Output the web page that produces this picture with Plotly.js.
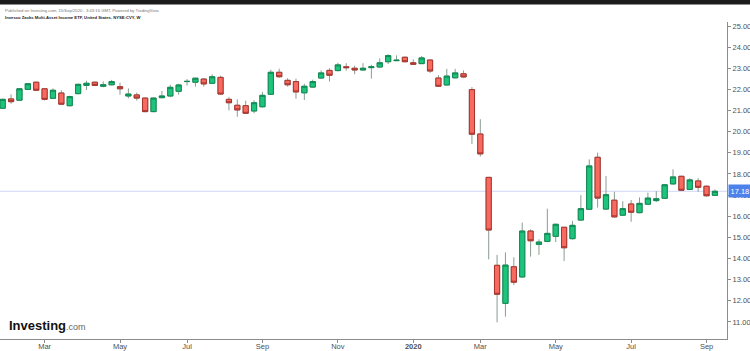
<!DOCTYPE html>
<html>
<head>
<meta charset="utf-8">
<script src="https://cdn.plot.ly/plotly-3.0.1.min.js"></script>
<style>
html,body{margin:0;padding:0;background:#fff;}
#chart{width:750px;height:351px;}
</style>
</head>
<body>
<div id="chart"></div>
<script>
// Weekly bars (week starting Monday), Invesco Zacks Multi-Asset Income ETF (NYSE:CVY)
const weekDates = [
 '2019-01-28','2019-02-04','2019-02-11','2019-02-18','2019-02-25',
 '2019-03-04','2019-03-11','2019-03-18','2019-03-25',
 '2019-04-01','2019-04-08','2019-04-15','2019-04-22','2019-04-29',
 '2019-05-06','2019-05-13','2019-05-20','2019-05-27',
 '2019-06-03','2019-06-10','2019-06-17','2019-06-24',
 '2019-07-01','2019-07-08','2019-07-15','2019-07-22','2019-07-29',
 '2019-08-05','2019-08-12','2019-08-19','2019-08-26',
 '2019-09-02','2019-09-09','2019-09-16','2019-09-23','2019-09-30',
 '2019-10-07','2019-10-14','2019-10-21','2019-10-28',
 '2019-11-04','2019-11-11','2019-11-18','2019-11-25',
 '2019-12-02','2019-12-09','2019-12-16','2019-12-23','2019-12-30',
 '2020-01-06','2020-01-13','2020-01-20','2020-01-27',
 '2020-02-03','2020-02-10','2020-02-17','2020-02-24',
 '2020-03-02','2020-03-09','2020-03-16','2020-03-23','2020-03-30',
 '2020-04-06','2020-04-13','2020-04-20','2020-04-27',
 '2020-05-04','2020-05-11','2020-05-18','2020-05-25',
 '2020-06-01','2020-06-08','2020-06-15','2020-06-22','2020-06-29',
 '2020-07-06','2020-07-13','2020-07-20','2020-07-27',
 '2020-08-03','2020-08-10','2020-08-17','2020-08-24','2020-08-31',
 '2020-09-07','2020-09-14'
];
const openP = [
 21.11,21.55,21.49,22.00,22.34, 22.03,21.58,21.83,21.23, 21.80,22.19,22.34,22.15,22.22,
 22.13,21.69,21.74,21.59, 20.95,21.61,21.69,21.91, 22.37,22.34,22.49,22.29,22.57,
 21.53,21.25,21.23,20.98, 21.18,21.77,22.81,22.43,22.37, 21.84,22.11,22.54,22.90,
 22.89,23.07,23.00,22.92, 23.03,23.06,23.31,23.36,23.52,
 23.26,23.22,23.39,22.54, 22.21,22.55,22.74,21.99,
 19.89,17.84,13.68,11.88,13.61, 13.13,15.30,14.67,14.81,
 15.05,15.48,14.94,15.82, 16.33,18.79,16.34,16.76,16.05,
 16.58,16.17,16.57,16.74, 16.85,17.53,17.89,17.27,17.67, 17.42,16.99
];
const highP = [
 21.56,21.77,22.06,22.30,22.37, 22.06,22.05,21.96,21.70, 22.27,22.41,22.37,22.38,22.45,
 22.32,22.05,21.85,21.62, 21.62,21.93,22.22,22.27, 22.49,22.55,22.53,22.72,22.65,
 21.64,21.53,21.47,21.49, 21.88,22.93,22.98,22.53,22.51, 22.27,22.46,22.90,23.00,
 23.26,23.24,23.12,23.24, 23.16,23.47,23.66,23.61,23.56,
 23.42,23.58,23.41,22.68, 22.97,22.97,22.90,22.11,
 20.59,17.86,14.17,14.29,14.06, 15.70,15.38,14.91,16.36,
 15.65,15.50,15.78,17.00, 18.69,19.01,17.90,17.16,16.71,
 16.77,16.89,17.12,17.19, 17.52,18.22,17.92,17.80,17.80, 17.45,17.27
];
const lowP = [
 21.08,21.32,21.46,21.98,21.93, 21.48,21.55,21.26,21.20, 21.77,21.97,22.16,22.10,22.20,
 21.75,21.58,21.47,20.92, 20.92,21.58,21.63,21.75, 22.18,22.13,22.13,22.26,21.75,
 21.01,20.71,20.84,20.87, 21.14,21.74,22.55,22.13,21.56, 21.50,22.07,22.51,22.37,
 22.86,22.89,22.72,22.90, 22.51,23.04,23.20,23.35,23.28,
 23.16,23.20,22.78,22.12, 22.18,22.52,22.55,19.42,
 18.82,13.96,10.98,11.25,12.75, 13.10,14.09,14.17,14.78,
 14.78,13.88,14.90,15.80, 16.30,16.41,16.31,15.94,16.02,
 15.74,16.14,16.54,16.67, 16.82,17.50,17.20,17.24,17.16, 16.93,16.96
];
const closeP = [
 21.53,21.42,22.03,22.27,21.96, 21.53,21.96,21.30,21.66, 22.24,22.29,22.19,22.22,22.37,
 22.03,21.78,21.59,20.95, 21.59,21.69,22.10,22.21, 22.38,22.53,22.26,22.60,21.78,
 21.37,21.03,20.87,21.37, 21.72,22.81,22.60,22.22,21.88, 22.15,22.37,22.78,22.67,
 23.16,23.03,22.92,23.00, 23.07,23.26,23.60,23.38,23.31,
 23.19,23.49,22.87,22.15, 22.63,22.78,22.59,19.88,
 18.95,15.35,12.31,13.69,12.88, 15.30,14.84,14.78,15.19,
 15.62,14.51,15.57,16.36, 18.38,16.86,17.02,15.97,16.36,
 16.19,16.61,16.86,16.83, 17.49,17.86,17.23,17.72,17.37, 16.97,17.18
];
const lastPrice = 17.18;
const tickDates = ['2019-03-04','2019-05-06','2019-07-01','2019-09-02','2019-11-04',
                   '2020-01-06','2020-03-02','2020-05-04','2020-07-06','2020-09-07'];
const tickLabels = ['Mar','May','Jul','Sep','Nov','<b>2020</b>','Mar','May','Jul','Sep'];

const bodyHigh = openP.map((o,i)=>Math.max(o,closeP[i]));
const bodyLow = openP.map((o,i)=>Math.min(o,closeP[i]));

const wickColor = '#8b9d92';
const wicks = {
  type:'candlestick', x:weekDates, open:openP, high:highP, low:lowP, close:closeP,
  increasing:{line:{color:wickColor,width:1}, fillcolor:'rgba(0,0,0,0)'},
  decreasing:{line:{color:wickColor,width:1}, fillcolor:'rgba(0,0,0,0)'},
  whiskerwidth:0, hoverinfo:'skip', showlegend:false
};
const bodies = {
  type:'candlestick', x:weekDates, open:openP, high:bodyHigh, low:bodyLow, close:closeP,
  increasing:{line:{color:'#0e8a52',width:1}, fillcolor:'#1cc47c'},
  decreasing:{line:{color:'#a8322c',width:1}, fillcolor:'#f8695f'},
  whiskerwidth:0, hoverinfo:'skip', showlegend:false
};

const FONT = '"Liberation Sans", Arial, sans-serif';
const tickFont = {family:FONT, size:7.5, color:'#505050'};
const PLOT_W = 727, TOP = 22, BOTTOM = 339, PLOT_H = BOTTOM - TOP;
const py = v => (BOTTOM - v) / PLOT_H;   // pixel row -> paper y
const px = v => v / PLOT_W;              // pixel col -> paper x

const layout = {
  width:750, height:351,
  margin:{l:0, r:750-PLOT_W, t:TOP, b:351-BOTTOM, pad:0},
  paper_bgcolor:'#ffffff', plot_bgcolor:'#ffffff',
  showlegend:false,
  boxgap:0.38, boxgroupgap:0,
  xaxis:{
    type:'date', range:['2019-01-25 18:00','2020-09-24 02:00'],
    tickmode:'array', tickvals:tickDates, ticktext:tickLabels,
    ticks:'outside', ticklen:3, tickcolor:'#8c8c8c', ticklabelstandoff:-3,
    showgrid:false, zeroline:false, showline:true, linecolor:'#8c8c8c', linewidth:1,
    tickfont:tickFont, rangeslider:{visible:false}, fixedrange:true
  },
  yaxis:{
    side:'right', range:[10.194, 25.189], tick0:0, dtick:1, tickformat:'.2f',
    ticks:'outside', ticklen:3, tickcolor:'#8c8c8c',
    showgrid:false, zeroline:false, showline:true, linecolor:'#8c8c8c', linewidth:1,
    tickfont:tickFont, fixedrange:true
  },
  shapes:[
    {type:'line', xref:'paper', yref:'y', x0:0, x1:1, y0:lastPrice, y1:lastPrice,
     line:{color:'rgba(120,140,225,0.35)', width:1}, layer:'below'},
    // white mask clipping the top of the highest price label, as in the reference
    {type:'rect', xref:'paper', yref:'paper', x0:px(PLOT_W+1), x1:px(750), y0:py(23.5), y1:py(0),
     fillcolor:'#ffffff', line:{width:0}, layer:'above'},
    {type:'rect', xref:'paper', yref:'paper', x0:0, x1:px(750), y0:py(4.5), y1:py(-2),
     fillcolor:'#1c1c1c', line:{width:0}, layer:'above'}
  ],
  annotations:[
    {xref:'paper', yref:'y', x:1, y:lastPrice, xanchor:'left', yanchor:'middle', xshift:1,
     text:'17.18', showarrow:false, bgcolor:'#4d82ea', borderpad:1.5,
     font:{family:FONT, size:7.5, color:'#ffffff'}},
    {xref:'paper', yref:'paper', x:px(3), y:py(10.7), xanchor:'left', yanchor:'middle',
     text:'Published on Investing.com, 15/Sep/2020 - 3:43:16 GMT, Powered by TradingView.',
     showarrow:false, font:{family:FONT, size:4.2, color:'#777'}},
    {xref:'paper', yref:'paper', x:px(3), y:py(17.3), xanchor:'left', yanchor:'middle',
     text:'<b>Invesco Zacks Multi-Asset Income ETF, United States, NYSE:CVY, W</b>',
     showarrow:false, font:{family:FONT, size:4.2, color:'#222'}},
    {xref:'paper', yref:'paper', x:px(7), y:py(325), xanchor:'left', yanchor:'middle',
     text:'<b>Investing</b><span style="font-size:9px;color:#666">.com</span>',
     showarrow:false, font:{family:FONT, size:13, color:'#111'}}
  ]
};

Plotly.newPlot('chart',[wicks,bodies],layout,{staticPlot:true, displayModeBar:false});
</script>
</body>
</html>
